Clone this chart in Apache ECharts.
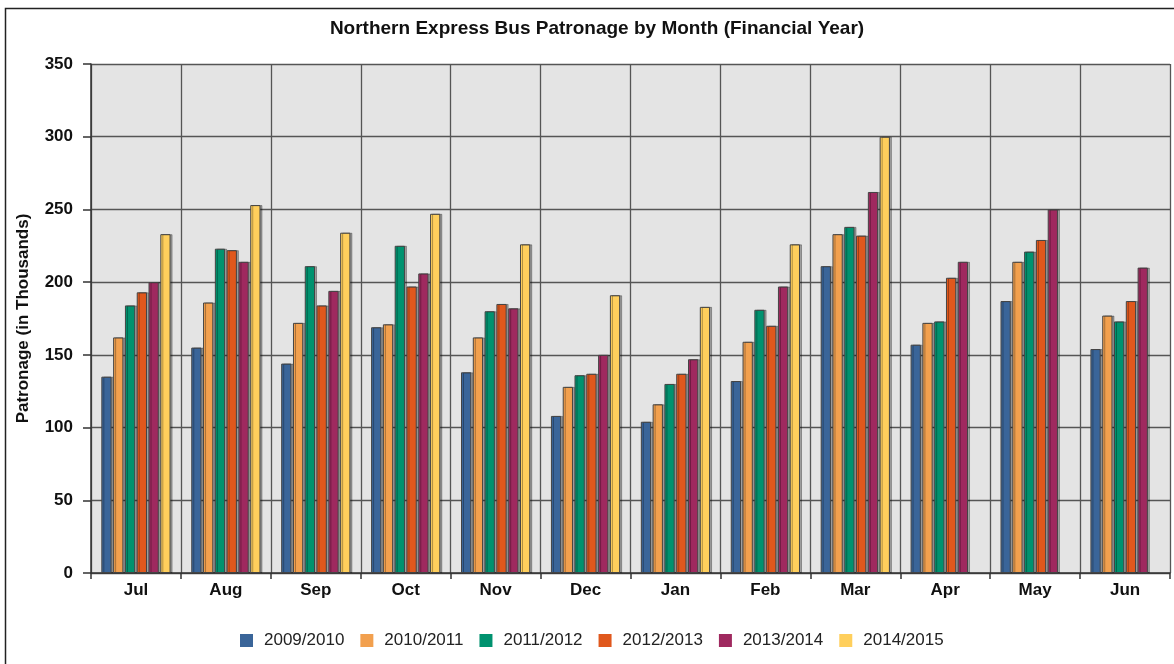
<!DOCTYPE html>
<html>
<head>
<meta charset="utf-8">
<script src="https://cdn.jsdelivr.net/npm/echarts@6/dist/echarts.min.js"></script>
<style>
  html, body { margin: 0; padding: 0; background: #fff; }
  #chart { width: 1174px; height: 664px; }
</style>
</head>
<body>
<div id="chart"></div>
<script>
// months of the financial year
const months = ['Jul', 'Aug', 'Sep', 'Oct', 'Nov', 'Dec', 'Jan', 'Feb', 'Mar', 'Apr', 'May', 'Jun'];
const yearNames = ['2009/2010', '2010/2011', '2011/2012', '2012/2013', '2013/2014', '2014/2015'];

// patronage in thousands
const fy0910 = [135, 155, 144, 169, 138, 108, 104, 132, 211, 157, 187, 154];
const fy1011 = [162, 186, 172, 171, 162, 128, 116, 159, 233, 172, 214, 177];
const fy1112 = [184, 223, 211, 225, 180, 136, 130, 181, 238, 173, 221, 173];
const fy1213 = [193, 222, 184, 197, 185, 137, 137, 170, 232, 203, 229, 187];
const fy1314 = [200, 214, 194, 206, 182, 150, 147, 197, 262, 214, 250, 210];
const fy1415 = [233, 253, 234, 247, 226, 191, 183, 226, 300, null, null, null];

const yTicks = [0, 50, 100, 150, 200, 250, 300, 350];

const colors = ['#3a6599', '#f2a04e', '#00926f', '#e0581d', '#9f295f', '#ffcf5c'];
const seriesData = [fy0910, fy1011, fy1112, fy1213, fy1314, fy1415];

const chart = echarts.init(document.getElementById('chart'));
const font = 'Liberation Sans, Arial, sans-serif';

chart.setOption({
  animation: false,
  color: colors,
  textStyle: { fontFamily: font },
  title: {
    text: 'Northern Express Bus Patronage by Month (Financial Year)',
    left: 592,
    textAlign: 'center',
    top: 14,
    textStyle: { fontSize: 19, fontWeight: 'bold', color: '#111', fontFamily: font }
  },
  graphic: [{
    // outer frame (only left and top edges are visible)
    type: 'rect',
    shape: { x: 5.5, y: 8.5, width: 1200, height: 700 },
    style: { fill: 'none', stroke: '#222', lineWidth: 1.5 },
    silent: true
  }],
  legend: {
    data: yearNames,
    top: 632,
    left: 240,
    padding: 0,
    icon: 'rect',
    itemWidth: 13,
    itemHeight: 13,
    itemGap: 16,
    itemStyle: { borderWidth: 0, shadowColor: 'transparent' },
    textStyle: { fontSize: 17, color: '#222', fontFamily: font, padding: [0, 0, 0, 6] }
  },
  grid: {
    left: 91, right: 4, top: 64, bottom: 91,
    show: true,
    backgroundColor: '#e4e4e4',
    borderWidth: 0
  },
  xAxis: {
    type: 'category',
    data: months,
    boundaryGap: true,
    axisLine: { lineStyle: { color: '#333', width: 1.5 } },
    axisTick: { show: true, interval: 0, length: 6, lineStyle: { color: '#333', width: 1.5 } },
    axisLabel: { fontSize: 17, fontWeight: 'bold', color: '#111', margin: 9, fontFamily: font },
    splitLine: { show: true, interval: 0, lineStyle: { color: '#555', width: 1.3 } }
  },
  yAxis: {
    type: 'value',
    min: 0,
    max: yTicks[yTicks.length - 1],
    interval: 50,
    name: 'Patronage (in Thousands)',
    nameLocation: 'middle',
    nameGap: 59,
    nameTextStyle: { fontSize: 17, fontWeight: 'bold', color: '#111', fontFamily: font },
    axisLine: { show: true, lineStyle: { color: '#333', width: 1.5 } },
    axisTick: { show: true, length: 8, lineStyle: { color: '#333', width: 1.5 } },
    axisLabel: { fontSize: 17, fontWeight: 'bold', color: '#111', margin: 18, fontFamily: font },
    splitLine: { show: true, lineStyle: { color: '#555', width: 1.3 } }
  },
  series: seriesData.map((d, i) => ({
    name: yearNames[i],
    type: 'bar',
    data: d,
    barGap: '15%',
    barCategoryGap: '23%',
    itemStyle: {
      color: colors[i],
      borderColor: '#444',
      borderWidth: 1,
      shadowColor: 'rgba(0,0,0,0.3)',
      shadowOffsetX: 2,
      shadowBlur: 0
    }
  }))
});
</script>
</body>
</html>
